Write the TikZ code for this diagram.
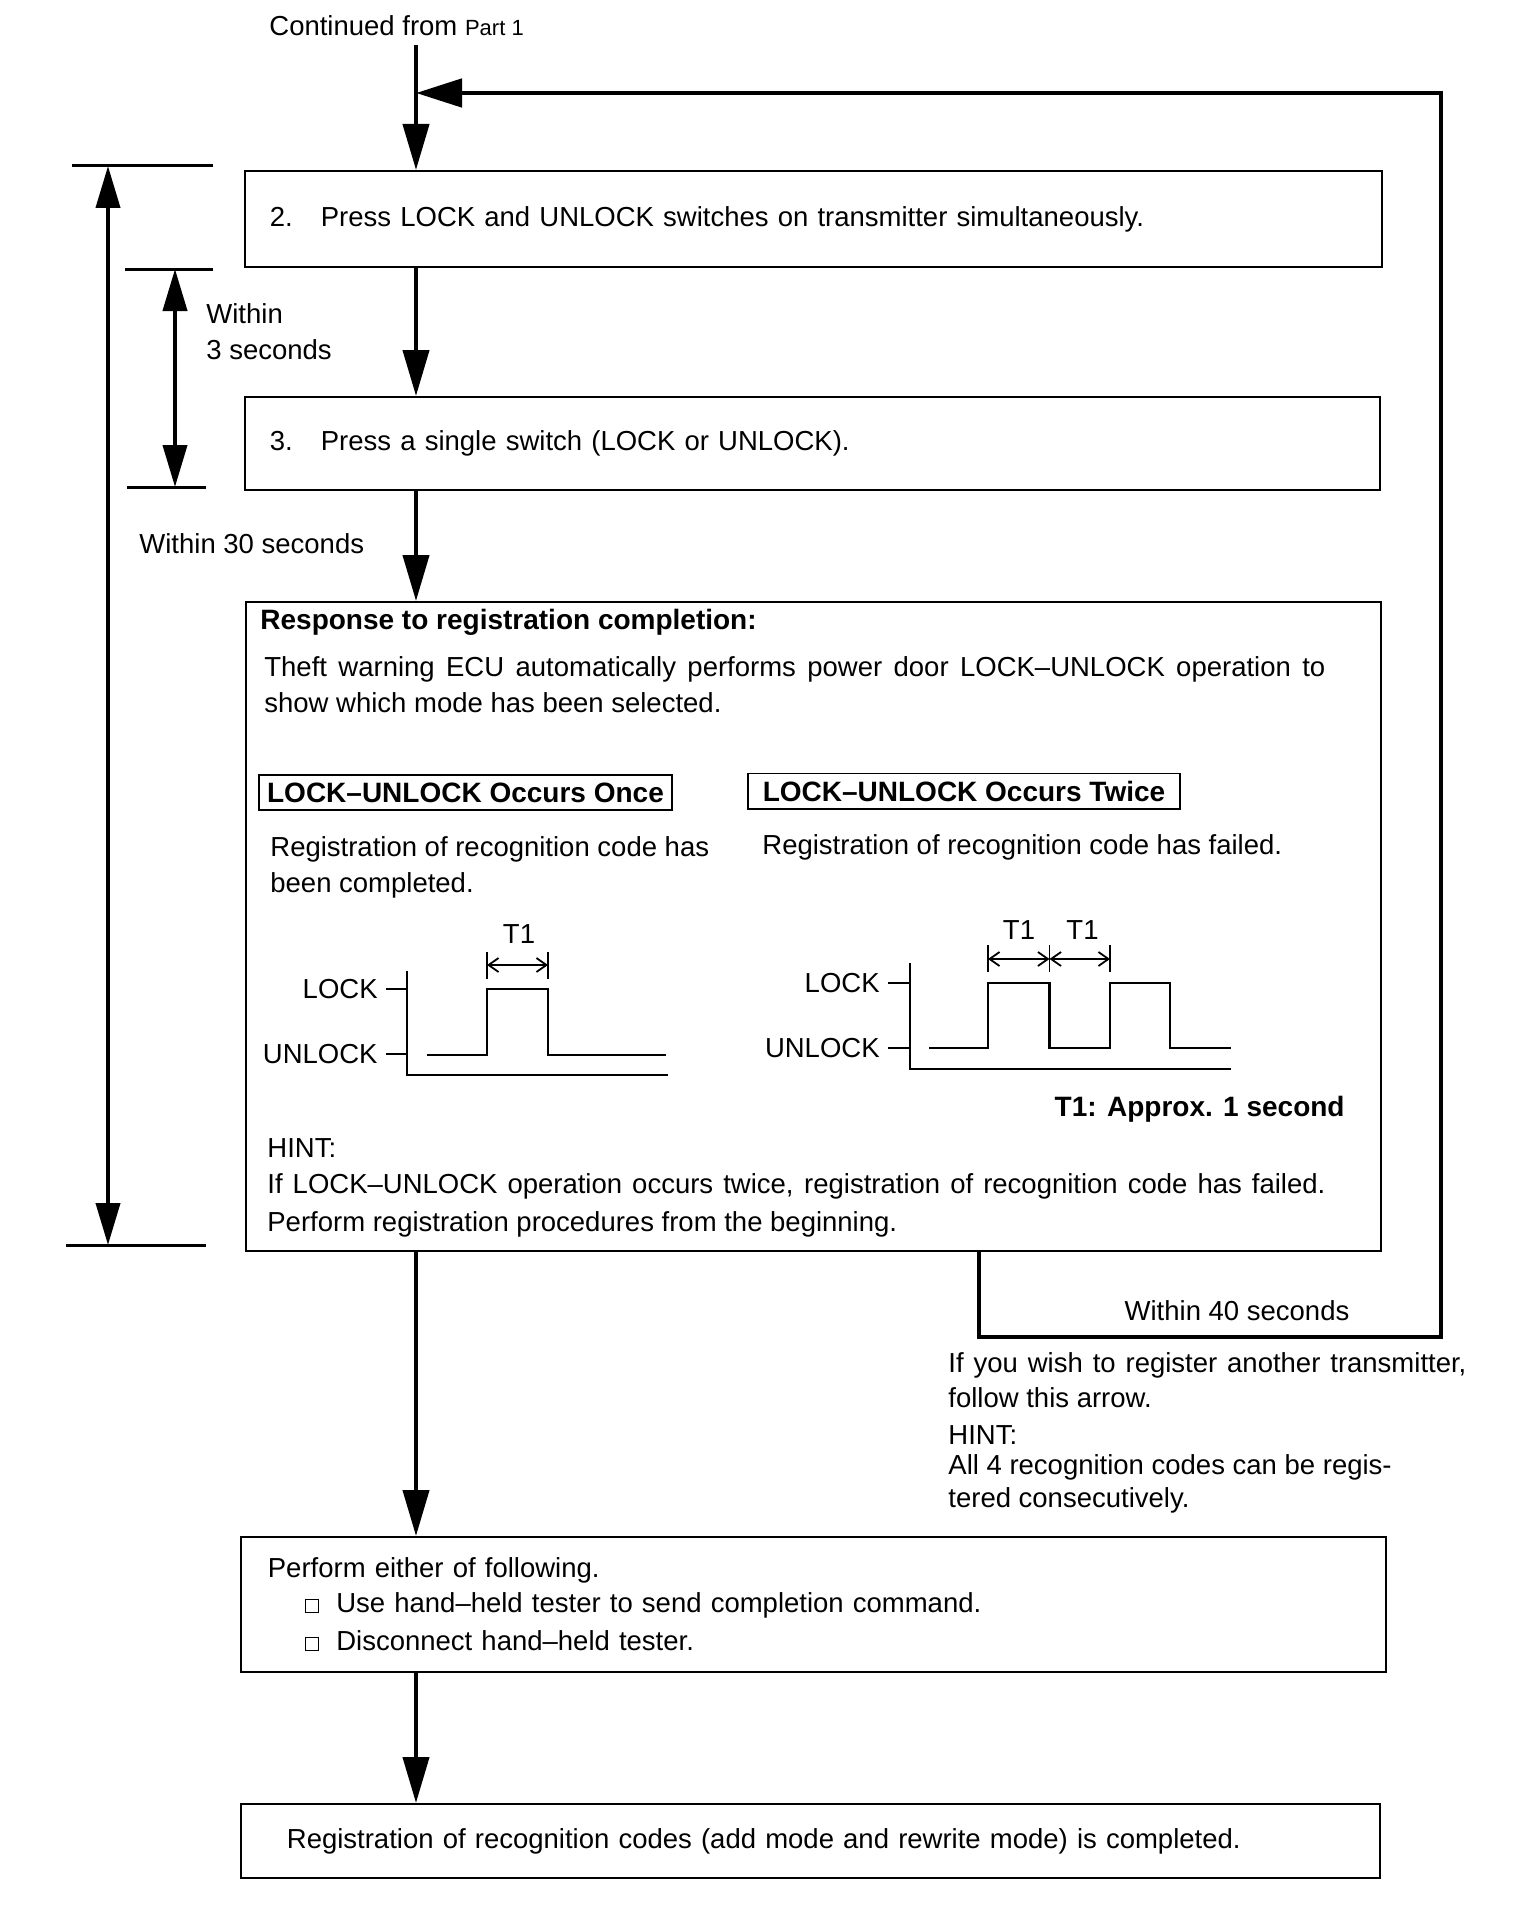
\documentclass[tikz,border=0pt]{standalone}
\usepackage{fontspec}
\setmainfont{Liberation Sans}
\usepackage{tikz}
\usetikzlibrary{positioning,arrows.meta}
\newcommand{\bodyfont}{\fontsize{13.75}{18}\selectfont}
\newcommand{\headfont}{\fontsize{14}{18}\selectfont\bfseries}
\newcommand{\chkbox}{{\fboxsep=0pt\fboxrule=0.6pt\fbox{\rule{0pt}{6pt}\hspace{6pt}}}}

\begin{document}
\begin{tikzpicture}[x=0.5pt,y=-0.5pt,
    stepbox/.style={draw,line width=0.9pt,anchor=north west,align=left,inner xsep=12.5pt,inner ysep=0pt,font=\bodyfont},
    txt/.style={inner sep=0pt,align=left,font=\bodyfont,anchor=base west},
    tagbox/.style={draw,line width=0.9pt,inner sep=0pt,font=\headfont,minimum height=17.6pt},
    flow/.style={line width=2.1pt,-{Triangle[length=23pt,width=13pt]}},
    fback/.style={line width=2.4pt,-{Triangle[length=23pt,width=14pt]}},
    dimline/.style={line width=2pt,{Triangle[length=21pt,width=12pt]}-{Triangle[length=21pt,width=12pt]}},
    extline/.style={line width=1.5pt},
    wave/.style={line width=1.2pt},
    tmark/.style={line width=0.9pt,{Straight Barb[length=5pt,width=7pt]}-{Straight Barb[length=5pt,width=7pt]}}]

    \useasboundingbox (0,0) rectangle (1520,1910);

    \node[txt] (start) at (269,36) {Continued from {\fontsize{11}{13}\selectfont Part 1}};
    \coordinate (top) at (416,45);
    \coordinate (join) at (416,93);

    % steps
    \node[stepbox,text width=543.5pt,minimum height=48pt] (step2) at (244,170) {\makebox[25.5pt][l]{2.}Press LOCK and UNLOCK switches on transmitter simultaneously.};
    \node[stepbox,text width=542.5pt,minimum height=46.5pt] (step3) at (244,396) {\makebox[25.5pt][l]{3.}Press a single switch (LOCK or UNLOCK).};
    \node[stepbox,minimum width=567.5pt,minimum height=324.5pt] (resp) at (245,601) {};
    \node[stepbox,inner xsep=13.5pt,text width=545.5pt,minimum height=67.5pt] (either) at (240,1536) {Perform either of following.\\[-0.5pt]\hspace*{18.5pt}\chkbox\hspace{8.5pt}Use hand–held tester to send completion command.\\[1pt]\hspace*{18.5pt}\chkbox\hspace{8.5pt}Disconnect hand–held tester.};
    \node[stepbox,inner xsep=23pt,text width=523.5pt,minimum height=37pt] (done) at (240,1803) {Registration of recognition codes (add mode and rewrite mode) is completed.};

    \draw[flow] (top) -- (top |- step2.north);
    \draw[flow] (top |- step2.south) -- (top |- step3.north);
    \draw[flow] (top |- step3.south) -- (top |- resp.north);
    \draw[flow] (top |- resp.south) -- (top |- either.north);
    \draw[flow] (top |- either.south) -- (top |- done.north);

    % loop back for another transmitter
    \coordinate (loopL) at (979,1337);
    \coordinate (loopR) at (1441,1337);
    \draw[fback] (resp.south -| loopL) -- (loopL) -- (loopR) |- (join);
    \node[txt,anchor=base] (w40) at (1237,1320) {Within 40 seconds};
    \node[txt] (again) at (948,1507) {\makebox[259pt][s]{If you wish to register another transmitter,}\\[-0.5pt]follow this arrow.\\[0.5pt]HINT:\\[-3pt]All 4 recognition codes can be regis-\\[-1.5pt]tered consecutively.};

    % time limits
    \coordinate (outT) at (108,166);
    \coordinate (outB) at (108,1245);
    \coordinate (inT) at (175,269);
    \coordinate (inB) at (175,487);
    \draw[extline] (72,166) -- (213,166);
    \draw[extline] (66,1245) -- (206,1245);
    \draw[extline] (125,269) -- (213,269);
    \draw[extline] (127,487) -- (206,487);
    \draw[dimline] (outT) -- (outB);
    \draw[dimline] (inT) -- (inB);
    \node[txt] (w3) at (206,359) {Within\\3 seconds};
    \node[txt] (w30) at (139,553) {Within 30 seconds};

    % response box contents
    \node[txt,font=\headfont] (resphead) at (260,629) {Response to registration completion:};
    \node[txt] (theft) at (264,712) {\makebox[530.5pt][s]{Theft warning ECU automatically performs power door LOCK–UNLOCK operation to}\\show which mode has been selected.};
    \node[tagbox,minimum width=206.5pt] (once) at (465.5,792.5) {LOCK–UNLOCK Occurs Once};
    \node[tagbox,minimum width=215.75pt] (twice) at (964,791) {LOCK–UNLOCK Occurs Twice};
    \node[txt] (okmsg) at (270,892.5) {Registration of recognition code has\\been completed.};
    \node[txt] (ngmsg) at (762,854.5) {Registration of recognition code has failed.};

    % chart: once
    \coordinate (lkA) at (386,989);
    \coordinate (ulA) at (386,1054);
    \node[txt,left=4pt of lkA] (lockA) {LOCK};
    \node[txt,left=4pt of ulA] (unlockA) {UNLOCK};
    \draw[wave] (407,971) -- (407,1075) -- (668,1075);
    \draw[wave] (lkA) -- (407,989);
    \draw[wave] (ulA) -- (407,1054);
    \draw[wave] (427,1055) -- (487,1055) -- (487,989) -- (548,989) -- (548,1055) -- (666,1055);
    \draw[line width=0.9pt] (487,952) -- (487,979) (548,952) -- (548,979);
    \draw[tmark] (487,965) -- (548,965);
    \node[txt,anchor=base] (t1a) at (519,943) {T1};

    % chart: twice
    \coordinate (lkB) at (888,983);
    \coordinate (ulB) at (888,1048);
    \node[txt,left=4pt of lkB] (lockB) {LOCK};
    \node[txt,left=4pt of ulB] (unlockB) {UNLOCK};
    \draw[wave] (910,963) -- (910,1069) -- (1231,1069);
    \draw[wave] (lkB) -- (910,983);
    \draw[wave] (ulB) -- (910,1048);
    \draw[wave] (929,1048) -- (988,1048) -- (988,983) -- (1049.5,983) -- (1049.5,1048) -- (1110,1048) -- (1110,983) -- (1170,983) -- (1170,1048) -- (1231,1048);
    \foreach \x in {988,1049.5,1110}
        \draw[line width=0.9pt] (\x,945) -- (\x,972);
    \draw[tmark] (988,959) -- (1049.5,959);
    \draw[tmark] (1049.5,959) -- (1110,959);
    \node[txt,anchor=base] (t1b) at (1019,939) {T1};
    \node[txt,anchor=base] (t1c) at (1082.5,939) {T1};

    \node[txt,anchor=base east,font=\headfont] (t1note) at (1345,1116) {T1: Approx. 1 second};
    \node[txt] (hint) at (267,1231) {HINT:\\\makebox[529pt][s]{If LOCK–UNLOCK operation occurs twice, registration of recognition code has failed.}\\[1pt]Perform registration procedures from the beginning.};

\end{tikzpicture}
\end{document}
